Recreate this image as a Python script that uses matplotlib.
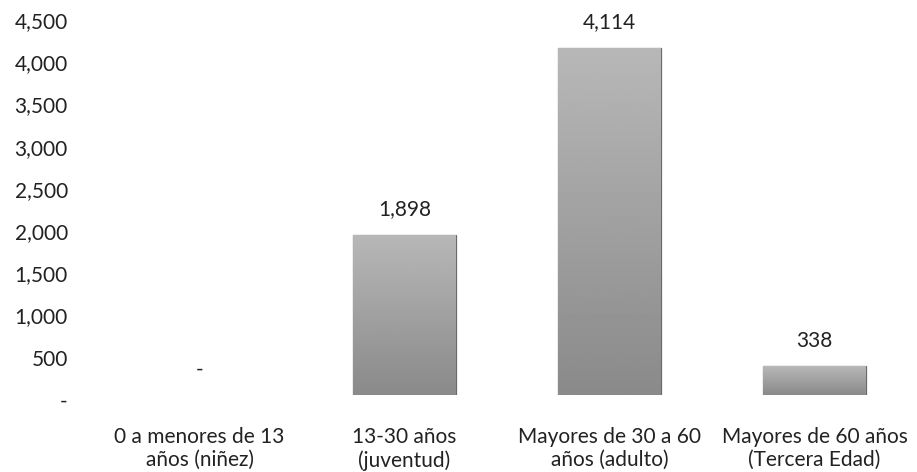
import matplotlib
matplotlib.use("Agg")
import matplotlib.pyplot as plt
import matplotlib.transforms as mtransforms
import numpy as np

categories = ["0 a menores de 13\naños (niñez)", "13-30 años\n(juventud)",
              "Mayores de 30 a 60\naños (adulto)", "Mayores de 60 años\n(Tercera Edad)"]
values = [0, 1898, 4114, 338]
value_labels = ["-", "1,898", "4,114", "338"]
yticks = [0, 500, 1000, 1500, 2000, 2500, 3000, 3500, 4000, 4500]
ytick_labels = ["-", "500", "1,000", "1,500", "2,000", "2,500", "3,000", "3,500", "4,000", "4,500"]

plt.rcParams['font.family'] = ['Lato', 'DejaVu Sans']
fig = plt.figure(figsize=(9.17, 4.72), dpi=100)
ax = fig.add_axes([97/917, 77/472, 820/917, 380/472])

x = np.arange(len(categories))
edge_w = [0.9 if v > 0 else 0 for v in values]
bars = ax.bar(x, values, width=0.5, color="#9c9c9c", edgecolor="#6a6a6a", linewidth=edge_w)

grad = np.linspace(0.72, 0.54, 256).reshape(-1, 1)
for b in bars:
    if b.get_height() <= 0:
        continue
    im = ax.imshow(grad, cmap="gray", vmin=0, vmax=1, aspect="auto",
                   extent=[b.get_x(), b.get_x() + b.get_width(), 0, b.get_height()],
                   origin="upper", zorder=2)
    im.set_clip_path(b)

for xi, v, lab in zip(x, values, value_labels):
    ax.annotate(lab, (xi, v), xytext=(0, 11), textcoords="offset points",
                ha="center", va="bottom", fontsize=15, color="#222222")

ax.set_xlim(-0.5, len(categories) - 0.5)
ax.set_ylim(0, 4500)
ax.set_yticks(yticks)
ax.set_yticklabels(ytick_labels, fontsize=15, color="#222222")
ax.set_xticks(x)
ax.set_xticklabels(categories, fontsize=15, color="#222222", linespacing=1.18)
ax.tick_params(axis="y", length=0, pad=21)
ax.tick_params(axis="x", length=0, pad=23)
shift = mtransforms.ScaledTranslation(0, -5/100, fig.dpi_scale_trans)
for lbl in ax.get_yticklabels():
    lbl.set_transform(lbl.get_transform() + shift)
for s in ax.spines.values():
    s.set_visible(False)

fig.savefig("out.png", dpi=100)
